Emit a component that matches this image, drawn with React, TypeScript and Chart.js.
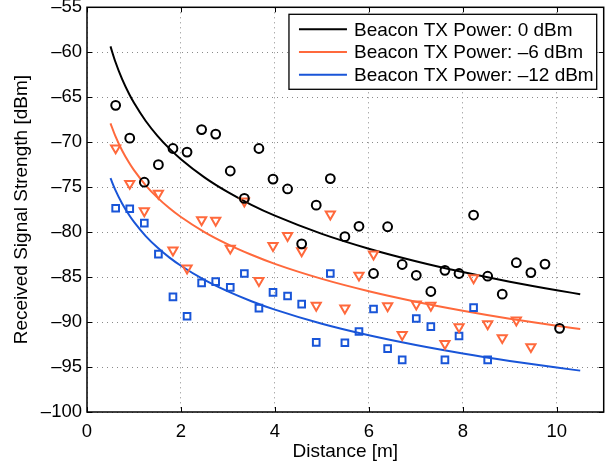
import React, { useEffect, useRef } from 'react';
import { Chart, registerables } from 'chart.js';

Chart.register(...registerables);

// Measured distances (1 ft steps) in metres
const distances = [0.61, 0.91, 1.22, 1.52, 1.83, 2.13, 2.44, 2.74, 3.05, 3.35, 3.66, 3.96, 4.27, 4.57, 4.88, 5.18, 5.49, 5.79, 6.10, 6.40, 6.71, 7.01, 7.32, 7.62, 7.92, 8.23, 8.53, 8.84, 9.14, 9.45, 9.75, 10.06];

// Measured RSS values [dBm]
const rss0 = [-65.9, -69.55, -74.45, -72.5, -70.7, -71.1, -68.6, -69.1, -73.2, -76.25, -70.7, -74.1, -75.2, -81.3, -77.0, -74.05, -80.5, -79.35, -84.6, -79.4, -83.6, -84.8, -86.6, -84.25, -84.6, -78.1, -84.9, -86.9, -83.4, -84.5, -83.55, -90.7];
const rss6 = [-70.65, -74.6, -77.65, -75.7, -82.0, -84.0, -78.65, -78.7, -81.8, -76.55, -85.4, -81.5, -80.4, -82.1, -88.15, -78.0, -88.45, -84.8, -82.45, -88.2, -91.4, -88.0, -88.15, -92.4, -90.55, -85.1, -90.2, -91.75, -89.8, -92.75];
const rss12 = [-77.35, -77.4, -79.0, -82.45, -87.2, -89.35, -85.65, -85.5, -86.15, -84.6, -88.45, -86.7, -87.1, -88.0, -92.25, -84.6, -92.3, -91.05, -88.55, -92.95, -94.2, -89.6, -90.5, -94.2, -91.55, -88.4, -94.2];

// Fitted curves
const fitX = [0.5, 0.6, 0.75, 0.9, 1, 1.25, 1.5, 1.75, 2, 2.5, 3, 3.5, 4, 5, 6, 7, 8, 9, 10, 10.5];
const fit0 = [-59.35, -61.0, -63.02, -64.67, -65.62, -67.64, -69.29, -70.69, -71.89, -73.91, -75.56, -76.96, -78.17, -80.19, -81.84, -83.23, -84.44, -85.51, -86.46, -86.9];
const fit6 = [-67.9, -69.27, -70.95, -72.32, -73.11, -74.79, -76.16, -77.32, -78.32, -79.99, -81.36, -82.52, -83.53, -85.2, -86.57, -87.73, -88.73, -89.62, -90.41, -90.78];
const fit12 = [-74.0, -75.28, -76.85, -78.13, -78.87, -80.44, -81.72, -82.81, -83.74, -85.31, -86.59, -87.68, -88.62, -90.19, -91.47, -92.55, -93.49, -94.32, -95.06, -95.4];

const xTicks = [0, 2, 4, 6, 8, 10];
const yTicks = [-55, -60, -65, -70, -75, -80, -85, -90, -95, -100];
const legendLabels = ['Beacon TX Power: 0 dBm', 'Beacon TX Power: \u20136 dBm', 'Beacon TX Power: \u201312 dBm'];

const BLACK = '#000000';
const ORANGE = '#FF693C';
const BLUE = '#1955D8';
const FONT = "'Liberation Sans', Arial, Helvetica, sans-serif";
const FS = 19;
const TFS = 18.5;

const toPts = (xs: number[], ys: number[]) => ys.map((v, i) => ({ x: xs[i], y: v }));
const dash = (s: string) => s.replace('-', '\u2013');

const legendPlugin = {
  id: 'matlabLegend',
  afterDatasetsDraw(chart: any) {
    const { ctx, chartArea } = chart;
    const items = chart.data.datasets.filter((d: any) => d.inLegend);
    ctx.save();
    ctx.font = `${FS}px ${FONT}`;
    const maxW = Math.max(...items.map((d: any) => ctx.measureText(d.label).width));
    const right = chartArea.right - 7;
    const top = chartArea.top + 7;
    const textX = right - 3 - maxW;
    const lineEnd = textX - 7;
    const lineStart = lineEnd - 48;
    const left = lineStart - 10;
    const rowH = 22.7;
    const height = 75;
    ctx.fillStyle = '#fff';
    ctx.fillRect(left, top, right - left, height);
    ctx.strokeStyle = '#000';
    ctx.lineWidth = 1.3;
    ctx.strokeRect(left, top, right - left, height);
    items.forEach((d: any, i: number) => {
      const cy = top + 15 + i * rowH;
      ctx.strokeStyle = d.borderColor;
      ctx.lineWidth = 2;
      ctx.beginPath();
      ctx.moveTo(lineStart, cy);
      ctx.lineTo(lineEnd, cy);
      ctx.stroke();
      ctx.fillStyle = '#000';
      ctx.textBaseline = 'middle';
      ctx.textAlign = 'left';
      ctx.fillText(d.label, textX, cy + 1);
    });
    ctx.restore();
  },
};

const boxPlugin = {
  id: 'matlabBox',
  afterDraw(chart: any) {
    const { ctx, chartArea, scales } = chart;
    const { left, right, top, bottom } = chartArea;
    const tl = 5;
    ctx.save();
    ctx.strokeStyle = '#000';
    ctx.lineWidth = 1;
    ctx.beginPath();
    xTicks.forEach((v) => {
      const p = Math.round(scales.x.getPixelForValue(v)) + 0.5;
      ctx.moveTo(p, bottom);
      ctx.lineTo(p, bottom - tl);
      ctx.moveTo(p, top);
      ctx.lineTo(p, top + tl);
    });
    yTicks.forEach((v) => {
      const p = Math.round(scales.y.getPixelForValue(v)) + 0.5;
      ctx.moveTo(left, p);
      ctx.lineTo(left + tl, p);
      ctx.moveTo(right, p);
      ctx.lineTo(right - tl, p);
    });
    ctx.stroke();
    ctx.lineWidth = 1.5;
    ctx.strokeRect(left, top, right - left, bottom - top);
    ctx.restore();
  },
};

export default function App() {
  const ref = useRef<HTMLCanvasElement>(null);
  useEffect(() => {
    document.body.style.margin = '0';
    const markerBase = { showLine: false, backgroundColor: 'transparent', borderWidth: 2, inLegend: false };
    const lineBase = { type: 'line', showLine: true, pointRadius: 0, borderWidth: 2, fill: false, cubicInterpolationMode: 'monotone', inLegend: true, backgroundColor: 'transparent' };
    const chart = new Chart(ref.current as HTMLCanvasElement, {
      type: 'scatter',
      data: {
        datasets: [
          { ...markerBase, label: 'm0', data: toPts(distances, rss0), borderColor: BLACK, pointStyle: 'circle', pointRadius: 4.4 },
          { ...markerBase, label: 'm6', data: toPts(distances, rss6), borderColor: ORANGE, pointStyle: 'triangle', pointRotation: 180, pointRadius: 5.3 },
          { ...markerBase, label: 'm12', data: toPts(distances, rss12), borderColor: BLUE, pointStyle: 'rect', pointRadius: 4.7 },
          { ...lineBase, label: legendLabels[0], data: toPts(fitX, fit0), borderColor: BLACK },
          { ...lineBase, label: legendLabels[1], data: toPts(fitX, fit6), borderColor: ORANGE },
          { ...lineBase, label: legendLabels[2], data: toPts(fitX, fit12), borderColor: BLUE },
        ] as any,
      },
      options: {
        animation: false,
        responsive: false,
        events: [],
        layout: { padding: { top: 5, right: 5, left: 0, bottom: 0 } },
        plugins: { legend: { display: false }, tooltip: { enabled: false } },
        scales: {
          x: {
            type: 'linear',
            min: 0,
            max: 11,
            afterBuildTicks: (s: any) => { s.ticks = xTicks.map((v) => ({ value: v })); },
            afterFit: (s: any) => { s.height = 56; s.paddingLeft = 0; s.paddingRight = 0; },
            grid: { color: '#8a8a8a', lineWidth: 1, drawTicks: false },
            border: { display: false, dash: [1, 4] },
            ticks: { color: '#000', padding: 9, maxRotation: 0, font: { family: FONT, size: TFS }, callback: (v: any) => dash(String(v)) },
            title: { display: true, text: 'Distance [m]', color: '#000', font: { family: FONT, size: FS }, padding: { top: 0, bottom: 5 } },
          },
          y: {
            type: 'linear',
            min: -100,
            max: -55,
            afterBuildTicks: (s: any) => { s.ticks = yTicks.map((v) => ({ value: v })); },
            afterFit: (s: any) => { s.width = 87; s.paddingTop = 0; s.paddingBottom = 0; },
            grid: { color: '#8a8a8a', lineWidth: 1, drawTicks: false },
            border: { display: false, dash: [1, 4] },
            ticks: { color: '#000', padding: 5, font: { family: FONT, size: TFS }, callback: (v: any) => dash(String(v)) },
            title: { display: true, text: 'Received Signal Strength [dBm]', color: '#000', font: { family: FONT, size: FS }, padding: { top: 10, bottom: 0 } },
          },
        },
      } as any,
      plugins: [legendPlugin, boxPlugin],
    });
    return () => chart.destroy();
  }, []);
  return (
    <div style={{ position: 'absolute', left: 0, top: 0, width: 611, height: 468, background: '#fff' }}>
      <canvas ref={ref} width={611} height={468} style={{ display: 'block' }} />
    </div>
  );
}
